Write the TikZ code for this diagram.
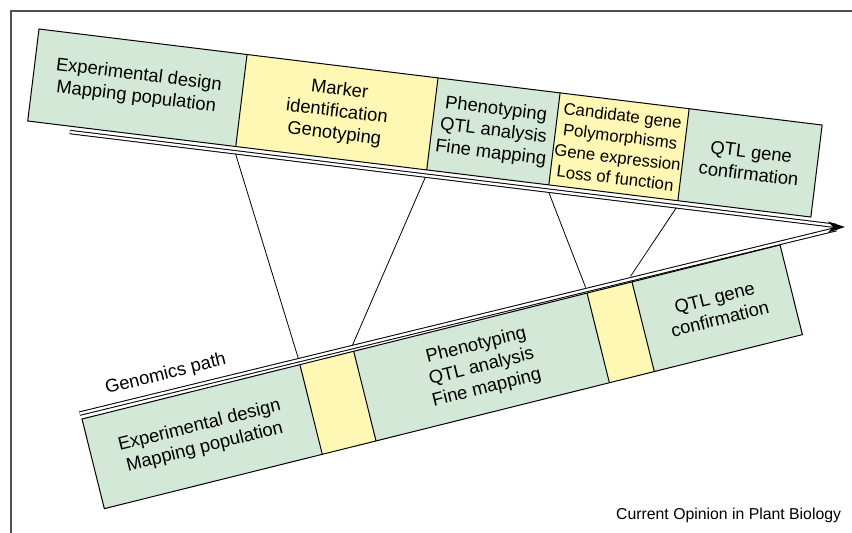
\documentclass[tikz,border=0pt]{standalone}
\usepackage{fontspec}
\setmainfont{Liberation Sans}
\usetikzlibrary{calc}
\definecolor{cellgreen}{HTML}{D3E8D6}
\definecolor{cellyellow}{HTML}{FFF8B4}
\definecolor{framegray}{HTML}{505050}

\begin{document}
\begin{tikzpicture}[x=1pt,y=-1pt,
  bandline/.style={draw=black,line width=1pt},
  celltext/.style={font=\fontsize{18.4}{22}\selectfont,align=center,text=black,inner sep=0pt},
  smalltext/.style={font=\fontsize{16.8}{21}\selectfont,align=center,text=black,inner sep=0pt},
  pathline/.style={draw=black,line width=1pt,double=white,double distance=2.4pt},
  link/.style={draw=black,line width=0.8pt},
]
\useasboundingbox (0,0) rectangle (852,533);

% frame
\draw[framegray,line width=1.4pt] (11,533) -- (11,11) -- (852,11);

% common end point of both paths
\coordinate (tip) at (845,227);

% upper band: classical QTL path
\begin{scope}[shift={(39,29)},rotate=-6.99,transform shape]
  \fill[cellgreen]  (0,0)     rectangle (209.6,92.7);
  \fill[cellyellow] (209.6,0) rectangle (402,92.7);
  \fill[cellgreen]  (402,0)   rectangle (525,92.7);
  \fill[cellyellow] (525,0)   rectangle (655,92.7);
  \fill[cellgreen]  (655,0)   rectangle (789,92.7);
  \draw[bandline] (0,0) rectangle (789,92.7);
  \foreach \a in {209.6,402,525,655} \draw[bandline] (\a,0) -- (\a,92.7);
  \node[celltext] (u1) at (104.8,45) {Experimental design\\Mapping population};
  \node[celltext] (u2) at (305.8,46.35) {Marker\\identification\\Genotyping};
  \node[celltext] (u3) at (463.5,46.35) {Phenotyping\\QTL analysis\\Fine mapping};
  \node[smalltext] (u4) at (590,46.35) {Candidate gene\\Polymorphisms\\Gene expression\\Loss of function};
  \node[celltext] (u5) at (722,46.35) {QTL gene\\confirmation};
  \coordinate (ustart) at (43,98.5);
  \coordinate (uc1) at (209.6,98.5);
  \coordinate (uc2) at (402,98.5);
  \coordinate (uc3) at (525,98.5);
  \coordinate (uc4) at (655,98.5);
\end{scope}

% lower band: genomics path
\begin{scope}[shift={(82,419)},rotate=14.0,transform shape]
  \fill[cellgreen]  (0,0)     rectangle (224.6,92.4);
  \fill[cellyellow] (224.6,0) rectangle (280,92.4);
  \fill[cellgreen]  (280,0)   rectangle (520.5,92.4);
  \fill[cellyellow] (520.5,0) rectangle (566.8,92.4);
  \fill[cellgreen]  (566.8,0) rectangle (719.4,92.4);
  \draw[bandline] (0,0) rectangle (719.4,92.4);
  \foreach \a in {224.6,280,520.5,566.8} \draw[bandline] (\a,0) -- (\a,92.4);
  \node[celltext] (l1) at (112.3,46.2) {Experimental design\\Mapping population};
  \node[celltext] (l3) at (400.25,46.2) {Phenotyping\\QTL analysis\\Fine mapping};
  \node[celltext] (l5) at (643.1,46.2) {QTL gene\\confirmation};
  \node[celltext,anchor=base west] (gp) at (30,-18.3) {Genomics path};
  \coordinate (lstart) at (-1,-5.8);
  \coordinate (lc1) at (224.6,-5.8);
  \coordinate (lc2) at (280,-5.8);
  \coordinate (lc3) at (520.5,-5.8);
  \coordinate (lc4) at (566.8,-5.8);
\end{scope}

% links between corresponding stage boundaries
\draw[link] (uc1) -- (lc1);
\draw[link] (uc2) -- (lc2);
\draw[link] (uc3) -- (lc3);
\draw[link] (uc4) -- (lc4);

% the two paths and their shared arrowhead
\draw[pathline] (ustart) -- ($(tip)!9pt!(ustart)$);
\draw[pathline] (lstart) -- ($(tip)!9pt!(lstart)$);
\fill[black] (tip) -- ++(-17,-5.5) -- ++(5,5.5) -- ++(-5,5.5) -- cycle;

% source line
\node[anchor=base west,font=\fontsize{15.8}{19}\selectfont,inner sep=0pt] (src) at (616,519) {Current Opinion in Plant Biology};
\end{tikzpicture}
\end{document}
